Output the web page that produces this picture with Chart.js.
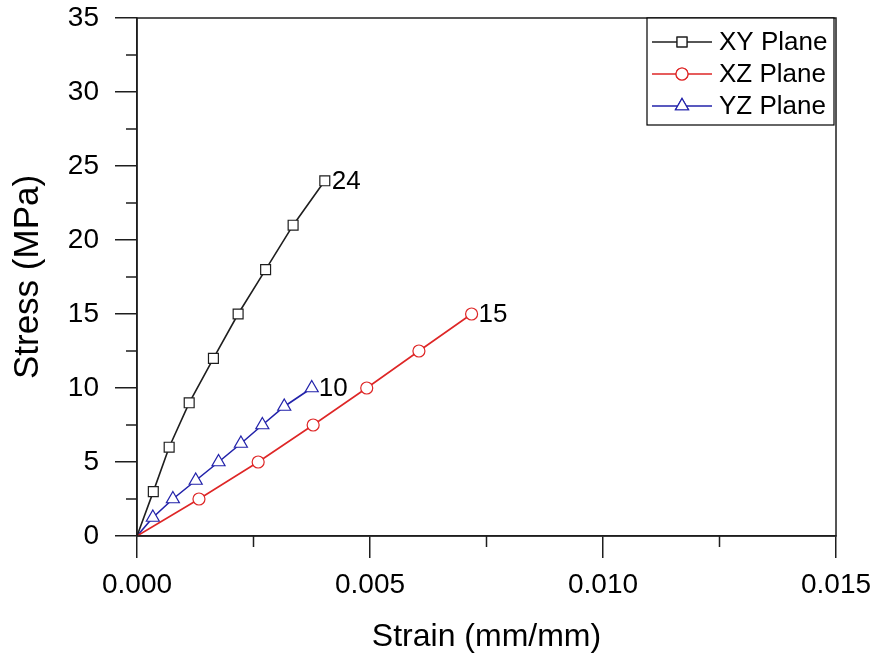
<!DOCTYPE html>
<html>
<head>
<meta charset="utf-8">
<script src="https://cdn.jsdelivr.net/npm/chart.js@4.4.0/dist/chart.umd.min.js"></script>
<style>
  html, body { margin: 0; padding: 0; background: #fff; }
</style>
</head>
<body>
<canvas id="chart" width="870" height="656"></canvas>
<script>
// values
const xyStrain = [0, 0.00035, 0.00069, 0.00112, 0.00164, 0.00217, 0.00276, 0.00335, 0.00403];
const xyStress = [0, 3, 6, 9, 12, 15, 18, 21, 24];
const xzStrain = [0, 0.00133, 0.0026, 0.00378, 0.00493, 0.00605, 0.00718];
const xzStress = [0, 2.5, 5, 7.5, 10, 12.5, 15];
const yzStrain = [0, 0.00034, 0.00077, 0.00126, 0.00175, 0.00223, 0.00269, 0.00316, 0.00375];
const yzStress = [0, 1.25, 2.5, 3.75, 5, 6.25, 7.5, 8.75, 10];
const seriesNames = ["XY Plane", "XZ Plane", "YZ Plane"];
const endLabels = ["24", "15", "10"];
const xMinorTicks = [0.0025, 0.0075, 0.0125];
const yMinorTicks = [2.5, 7.5, 12.5, 17.5, 22.5, 27.5, 32.5];

const FONT = "'Liberation Sans', Arial, sans-serif";
const colors = ["#1e1e1e", "rgb(222,38,38)", "rgb(34,34,170)"];
const styles = ["rect", "circle", "triangle"];
const radii = [7, 6, 7.5];

const pairs = (xs, ys) => xs.map((x, i) => ({ x: x, y: ys[i] }));
const allData = [pairs(xyStrain, xyStress), pairs(xzStrain, xzStress), pairs(yzStrain, yzStress)];

const datasets = allData.map((d, i) => ({
  label: seriesNames[i],
  data: d,
  borderColor: colors[i],
  borderWidth: 1.6,
  pointStyle: styles[i],
  pointRadius: (ctx) => (ctx.dataIndex === 0 ? 0 : radii[i]),
  pointBorderColor: colors[i],
  pointBackgroundColor: "#fff",
  pointBorderWidth: 1.2,
  tension: 0,
}));

const extras = {
  id: "extras",
  afterDraw(chart) {
    const { ctx, chartArea: a, scales } = chart;
    ctx.save();
    // frame
    ctx.strokeStyle = "#1e1e1e";
    ctx.lineWidth = 1.5;
    ctx.strokeRect(a.left, a.top, a.right - a.left, a.bottom - a.top);
    // minor ticks
    ctx.beginPath();
    xMinorTicks.forEach((v) => {
      const px = scales.x.getPixelForValue(v);
      ctx.moveTo(px, a.bottom);
      ctx.lineTo(px, a.bottom + 11);
    });
    yMinorTicks.forEach((v) => {
      const py = scales.y.getPixelForValue(v);
      ctx.moveTo(a.left, py);
      ctx.lineTo(a.left - 11, py);
    });
    ctx.stroke();

    // end labels
    ctx.fillStyle = "#000";
    ctx.font = "26px " + FONT;
    ctx.textBaseline = "middle";
    ctx.textAlign = "left";
    chart.data.datasets.forEach((ds, i) => {
      const pts = chart.getDatasetMeta(i).data;
      const last = pts[pts.length - 1];
      ctx.fillText(endLabels[i], last.x + 7, last.y + 1);
    });

    // legend
    const lx = a.right - 189, ly = a.top, lw = 187, lh = 107;
    ctx.fillStyle = "#fff";
    ctx.fillRect(lx, ly, lw, lh);
    ctx.strokeStyle = "#000";
    ctx.lineWidth = 1.2;
    ctx.strokeRect(lx, ly, lw, lh);
    chart.data.datasets.forEach((ds, i) => {
      const y = ly + 24 + i * 32;
      ctx.strokeStyle = colors[i];
      ctx.lineWidth = 1.5;
      ctx.beginPath();
      ctx.moveTo(lx + 5, y);
      ctx.lineTo(lx + 65, y);
      ctx.stroke();
      ctx.fillStyle = "#fff";
      ctx.lineWidth = 1.2;
      Chart.helpers.drawPoint(ctx, { pointStyle: styles[i], radius: radii[i], borderWidth: 1.2, rotation: 0 }, lx + 35, y);
      ctx.fill();
      ctx.stroke();
      ctx.fillStyle = "#000";
      ctx.font = "26px " + FONT;
      ctx.textAlign = "left";
      ctx.textBaseline = "middle";
      ctx.fillText(ds.label, lx + 72, y + 1);
    });
    ctx.restore();
  },
};

new Chart(document.getElementById("chart").getContext("2d"), {
  type: "line",
  data: { datasets: datasets },
  plugins: [extras],
  options: {
    responsive: false,
    devicePixelRatio: 1,
    animation: false,
    layout: { padding: { left: 0, right: 34, top: 18, bottom: 0 } },
    plugins: { legend: { display: false }, tooltip: { enabled: false } },
    scales: {
      x: {
        type: "linear",
        min: 0,
        max: 0.015,
        ticks: {
          stepSize: 0.005,
          callback: (v) => v.toFixed(3),
          color: "#000",
          font: { size: 28, family: FONT },
          padding: 10,
          maxRotation: 0,
        },
        grid: { drawOnChartArea: false, tickLength: 22, color: "#1e1e1e", lineWidth: 1.5 },
        border: { color: "#1e1e1e", width: 1.5 },
        title: {
          display: true,
          text: "Strain (mm/mm)",
          color: "#000",
          font: { size: 32, family: FONT },
          padding: { top: 0, bottom: 0 },
        },
        afterFit: (s) => { s.height = 120; s.paddingLeft = 0; s.paddingRight = 0; },
      },
      y: {
        type: "linear",
        min: 0,
        max: 35,
        ticks: {
          stepSize: 5,
          color: "#000",
          font: { size: 28, family: FONT },
          padding: 16,
        },
        grid: { drawOnChartArea: false, tickLength: 22, color: "#1e1e1e", lineWidth: 1.5 },
        border: { color: "#1e1e1e", width: 1.5 },
        title: {
          display: true,
          text: "Stress (MPa)",
          color: "#000",
          font: { size: 35, family: FONT },
          padding: { top: 7, bottom: 0 },
        },
        afterFit: (s) => { s.width = 137; s.paddingTop = 0; s.paddingBottom = 0; },
      },
    },
  },
});
</script>
</body>
</html>
